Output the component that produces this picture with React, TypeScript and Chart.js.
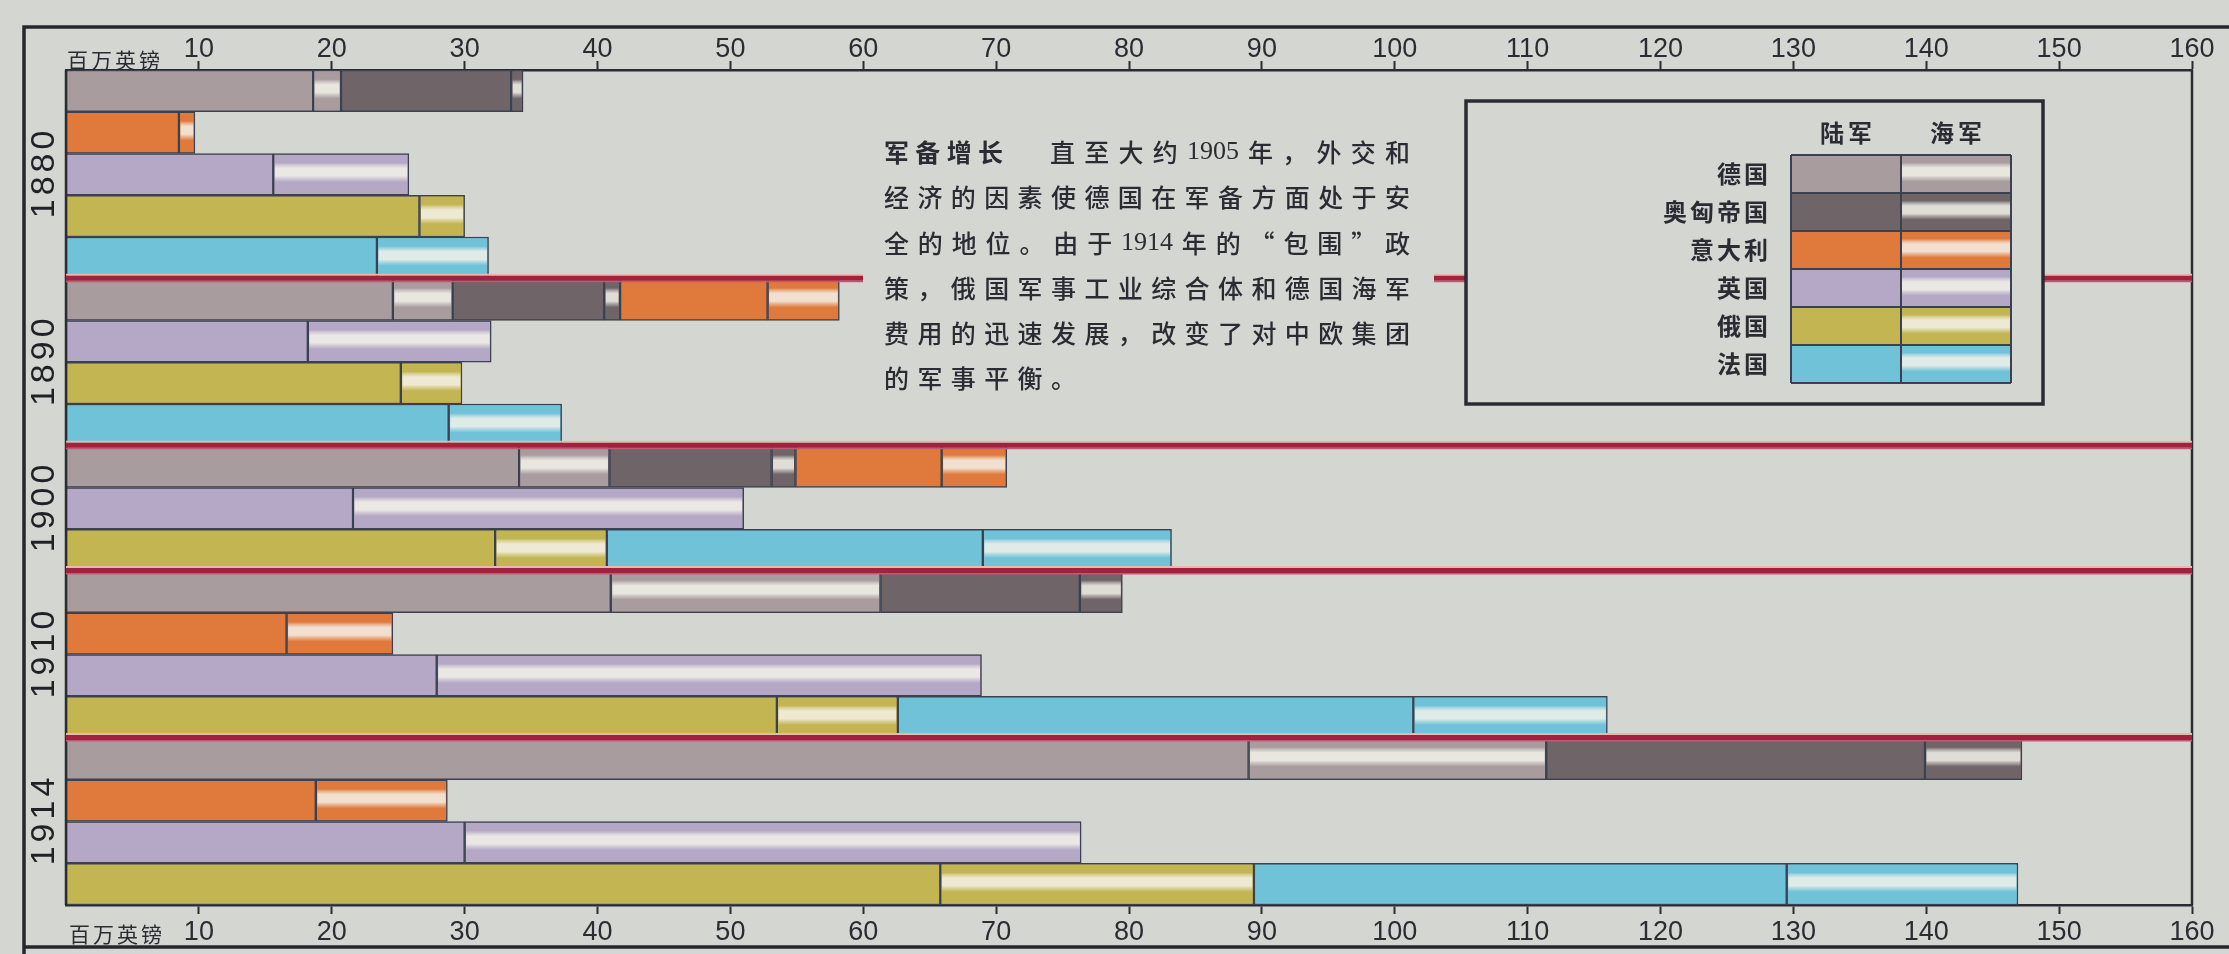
import { useEffect, useRef } from 'react';
import { Chart, registerables } from 'chart.js';

Chart.register(...registerables);

const W = 2229;
const H = 954;
const BG = '#d4d6d2';
const INK = '#2a2c33';
const BAR_EDGE = '#3b4150';

// ---- data (million pounds) ----
const years = ['1880', '1890', '1900', '1910', '1914'];
const countries = ['德国', '奥匈帝国', '意大利', '英国', '俄国', '法国'];
const branchLabels = ['陆军', '海军'];

const germanyArmy = [18.6, 24.6, 34.1, 41.0, 89.0];
const germanyNavy = [2.1, 4.5, 6.8, 20.3, 22.4];
const austriaArmy = [12.8, 11.4, 12.2, 15.0, 28.5];
const austriaNavy = [0.9, 1.2, 1.8, 3.2, 7.3];
const italyArmy = [8.5, 11.1, 11.0, 16.6, 18.8];
const italyNavy = [1.2, 5.4, 4.9, 8.0, 9.9];
const britainArmy = [15.6, 18.2, 21.6, 27.9, 30.0];
const britainNavy = [10.2, 13.8, 29.4, 41.0, 46.4];
const russiaArmy = [26.6, 25.2, 32.3, 53.5, 65.8];
const russiaNavy = [3.4, 4.6, 8.4, 9.1, 23.6];
const franceArmy = [23.4, 28.8, 28.3, 38.8, 40.1];
const franceNavy = [8.4, 8.5, 14.2, 14.6, 17.4];

const armyValues = [germanyArmy, austriaArmy, italyArmy, britainArmy, russiaArmy, franceArmy];
const navyValues = [germanyNavy, austriaNavy, italyNavy, britainNavy, russiaNavy, franceNavy];

const countryColors = ['#a89c9f', '#6f6468', '#e07a3c', '#b4a8c6', '#c4b553', '#70c2d8'];

// which countries share each bar row, per year (indices into countries)
const rowLayout = [
  [[0, 1], [2], [3], [4], [5]],
  [[0, 1, 2], [3], [4], [5]],
  [[0, 1, 2], [3], [4, 5]],
  [[0, 1], [2], [3], [4, 5]],
  [[0, 1], [2], [3], [4, 5]],
];

const xTicks = [10, 20, 30, 40, 50, 60, 70, 80, 90, 100, 110, 120, 130, 140, 150, 160];
const unitLabel = '百万英镑';
const noteTitle = '军备增长';
const noteLines = [
  '直至大约 1905 年，外交和',
  '经济的因素使德国在军备方面处于安',
  '全的地位。由于 1914 年的“包围”政',
  '策，俄国军事工业综合体和德国海军',
  '费用的迅速发展，改变了对中欧集团',
  '的军事平衡。',
];

// ---- build rows ----
type Row = { year: number; members: number[] };
const rows: Row[] = [];
rowLayout.forEach((yr, yi) => yr.forEach((members) => rows.push({ year: yi, members })));
const rowKeys = rows.map((r, i) => `${years[r.year]}-${i}`);
const groupStarts: number[] = [];
const groupSpans: [number, number][] = [];
{
  let idx = 0;
  rowLayout.forEach((yr) => {
    groupSpans.push([idx, idx + yr.length]);
    idx += yr.length;
    groupStarts.push(idx);
  });
}

const datasets: any[] = [];
countries.forEach((name, ci) => {
  [armyValues, navyValues].forEach((src, bi) => {
    datasets.push({
      label: `${name}${branchLabels[bi]}`,
      data: rows.map((r) => (r.members.includes(ci) ? src[ci][r.year] : null)),
      backgroundColor: countryColors[ci],
      borderColor: BAR_EDGE,
      borderWidth: 1.5,
      borderSkipped: false,
      barPercentage: 1,
      categoryPercentage: 1,
      stack: 'all',
      navy: bi === 1,
      colorIndex: ci,
    });
  });
});

// ---- helpers ----
function hexToRgb(hex: string) {
  const h = hex.replace('#', '');
  return [parseInt(h.slice(0, 2), 16), parseInt(h.slice(2, 4), 16), parseInt(h.slice(4, 6), 16)];
}
function mix(hex: string, target: string, t: number) {
  const a = hexToRgb(hex);
  const b = hexToRgb(target);
  const c = a.map((v, i) => Math.round(v + (b[i] - v) * t));
  return `rgb(${c[0]},${c[1]},${c[2]})`;
}
function navyFill(ctx: CanvasRenderingContext2D, x: number, y: number, w: number, h: number, color: string) {
  if (w <= 0 || h <= 0) return;
  const g = ctx.createLinearGradient(0, y, 0, y + h);
  const light = mix(color, '#f4f2ea', 0.5);
  const white = mix(color, '#f4f2ea', 0.85);
  g.addColorStop(0, color);
  g.addColorStop(0.2, color);
  g.addColorStop(0.27, light);
  g.addColorStop(0.34, white);
  g.addColorStop(0.54, white);
  g.addColorStop(0.6, light);
  g.addColorStop(0.7, color);
  g.addColorStop(1, color);
  ctx.fillStyle = g;
  ctx.fillRect(x, y, w, h);
}

const CJK = '"Noto Sans CJK SC"';
const bodyFont = `500 25px ${CJK}`;
const boldFont = `bold 25px ${CJK}`;
const legendFont = `bold 24px ${CJK}`;
const latinFont = '26px "Liberation Serif"';

function drawLine(
  ctx: CanvasRenderingContext2D,
  text: string,
  x0: number,
  x1: number | null,
  y: number,
  cjkFont: string,
  fixedGap = 8
) {
  const tokens = text.match(/[0-9A-Za-z]+|\S/g) || [];
  const fontOf = (t: string) => (/^[0-9A-Za-z]+$/.test(t) ? latinFont : cjkFont);
  const widths = tokens.map((t) => {
    ctx.font = fontOf(t);
    return ctx.measureText(t).width;
  });
  const total = widths.reduce((a, b) => a + b, 0);
  const gap = x1 !== null && tokens.length > 1 ? (x1 - x0 - total) / (tokens.length - 1) : fixedGap;
  let x = x0;
  tokens.forEach((t, i) => {
    ctx.font = fontOf(t);
    ctx.fillText(t, x, y);
    x += widths[i] + gap;
  });
  return gap;
}

const decorPlugin = {
  id: 'decor',
  beforeDraw(chart: any) {
    const ctx: CanvasRenderingContext2D = chart.ctx;
    ctx.save();
    ctx.fillStyle = BG;
    ctx.fillRect(0, 0, W, H);
    ctx.strokeStyle = '#25272e';
    ctx.lineWidth = 3.5;
    ctx.beginPath();
    ctx.moveTo(W, 27);
    ctx.lineTo(24, 27);
    ctx.lineTo(24, H);
    ctx.moveTo(24, 947);
    ctx.lineTo(W, 947);
    ctx.stroke();
    ctx.restore();
  },
  afterDatasetsDraw(chart: any) {
    const ctx: CanvasRenderingContext2D = chart.ctx;
    const { left: L, right: R, top: T, bottom: B } = chart.chartArea;
    ctx.save();
    // navy stripes
    chart.data.datasets.forEach((ds: any, di: number) => {
      if (!ds.navy) return;
      const meta = chart.getDatasetMeta(di);
      meta.data.forEach((el: any, i: number) => {
        if (ds.data[i] === null || ds.data[i] === undefined) return;
        const p = el.getProps(['x', 'y', 'base', 'height'], true);
        const bw = ds.borderWidth;
        const x0 = Math.min(p.x, p.base) + bw;
        const x1 = Math.max(p.x, p.base) - bw;
        const y0 = p.y - p.height / 2 + bw;
        navyFill(ctx, x0, y0, x1 - x0, p.height - 2 * bw, countryColors[ds.colorIndex]);
      });
    });
    // plot box sides
    ctx.strokeStyle = INK;
    ctx.lineWidth = 2.5;
    ctx.beginPath();
    ctx.moveTo(L, T);
    ctx.lineTo(L, B);
    ctx.moveTo(R, T);
    ctx.lineTo(R, B);
    ctx.stroke();
    // red separators between year groups
    const rowH = (B - T) / rows.length;
    groupStarts.slice(0, -1).forEach((idx) => {
      const y = T + idx * rowH;
      ctx.fillStyle = '#e8b8ae';
      ctx.fillRect(L, y - 5, R - L, 2);
      ctx.fillStyle = '#a2213e';
      ctx.fillRect(L, y - 3, R - L, 5);
      ctx.fillStyle = '#c05a72';
      ctx.fillRect(L, y + 2, R - L, 1.5);
    });
    ctx.restore();
  },
  afterDraw(chart: any) {
    const ctx: CanvasRenderingContext2D = chart.ctx;
    const { top: T, bottom: B, left: L } = chart.chartArea;
    const rowH = (B - T) / rows.length;
    ctx.save();

    // note text block
    ctx.fillStyle = BG;
    ctx.fillRect(863, 118, 1434 - 863, 287);
    ctx.fillStyle = INK;
    ctx.textBaseline = 'middle';
    ctx.textAlign = 'left';
    const tx0 = 884;
    const tx1 = 1410;
    const lineY = [152, 197.5, 243, 288, 333, 378];
    drawLine(ctx, noteTitle, tx0, 1003, lineY[0], boldFont);
    drawLine(ctx, noteLines[0], 1050, tx1, lineY[0], bodyFont);
    let gap = 8;
    for (let i = 1; i < noteLines.length - 1; i++) {
      const g = drawLine(ctx, noteLines[i], tx0, tx1, lineY[i], bodyFont);
      if (i === 1) gap = g;
    }
    drawLine(ctx, noteLines[noteLines.length - 1], tx0, null, lineY[noteLines.length - 1], bodyFont, gap);

    // legend
    const lb = { x: 1466, y: 101, w: 577, h: 303 };
    ctx.fillStyle = BG;
    ctx.fillRect(lb.x, lb.y, lb.w, lb.h);
    ctx.strokeStyle = INK;
    ctx.lineWidth = 3.5;
    ctx.strokeRect(lb.x, lb.y, lb.w, lb.h);
    const gx0 = 1791;
    const gx1 = 1901;
    const gx2 = 2011;
    const gy0 = 155;
    const gh = 38;
    ctx.fillStyle = INK;
    ctx.font = legendFont;
    ctx.textAlign = 'center';
    ctx.textBaseline = 'middle';
    (ctx as any).letterSpacing = '4px';
    ctx.fillText(branchLabels[0], (gx0 + gx1) / 2 + 2, 133);
    ctx.fillText(branchLabels[1], (gx1 + gx2) / 2 + 2, 133);
    countries.forEach((name, i) => {
      const y = gy0 + i * gh;
      ctx.fillStyle = countryColors[i];
      ctx.fillRect(gx0, y, gx1 - gx0, gh);
      navyFill(ctx, gx1, y, gx2 - gx1, gh, countryColors[i]);
      ctx.fillStyle = INK;
      ctx.font = legendFont;
      ctx.textAlign = 'right';
      (ctx as any).letterSpacing = '3px';
      ctx.fillText(name, 1771, y + gh / 2);
    });
    (ctx as any).letterSpacing = '0px';
    ctx.strokeStyle = BAR_EDGE;
    ctx.lineWidth = 2;
    for (let i = 0; i <= countries.length; i++) {
      ctx.beginPath();
      ctx.moveTo(gx0, gy0 + i * gh);
      ctx.lineTo(gx2, gy0 + i * gh);
      ctx.stroke();
    }
    [gx0, gx1, gx2].forEach((x) => {
      ctx.beginPath();
      ctx.moveTo(x, gy0);
      ctx.lineTo(x, gy0 + countries.length * gh);
      ctx.stroke();
    });

    // year labels
    ctx.fillStyle = '#1f2127';
    ctx.font = '34px "Liberation Sans"';
    ctx.textAlign = 'center';
    ctx.textBaseline = 'middle';
    (ctx as any).letterSpacing = '4px';
    groupSpans.forEach(([a, b], i) => {
      const yc = T + ((a + b) / 2) * rowH;
      ctx.save();
      ctx.translate(45, yc);
      ctx.rotate(-Math.PI / 2);
      ctx.fillText(years[i], 2, 0);
      ctx.restore();
    });

    // unit labels
    ctx.fillStyle = INK;
    ctx.font = `21px ${CJK}`;
    ctx.textAlign = 'left';
    ctx.textBaseline = 'middle';
    (ctx as any).letterSpacing = '3px';
    ctx.fillText(unitLabel, L + 1, 60);
    ctx.fillText(unitLabel, L + 3, 934);
    (ctx as any).letterSpacing = '0px';
    ctx.restore();
  },
};

function axis(position: 'top' | 'bottom', height: number, pad: number) {
  return {
    type: 'linear',
    position,
    min: 0,
    max: 160,
    stacked: position === 'bottom',
    afterBuildTicks: (s: any) => {
      s.ticks = xTicks.map((v) => ({ value: v }));
    },
    afterFit: (s: any) => {
      s.height = height;
    },
    ticks: {
      autoSkip: false,
      maxRotation: 0,
      minRotation: 0,
      padding: pad,
      color: INK,
      font: { family: 'Liberation Sans', size: 27 },
    },
    grid: {
      drawOnChartArea: false,
      drawTicks: true,
      tickLength: 9,
      tickWidth: 2,
      tickColor: INK,
      color: INK,
    },
    border: { display: true, color: INK, width: 2.5 },
  };
}

export default function App() {
  const ref = useRef<HTMLCanvasElement | null>(null);
  useEffect(() => {
    document.body.style.background = BG;
    const canvas = ref.current;
    if (!canvas) return;
    const chart = new Chart(canvas, {
      type: 'bar',
      data: { labels: rowKeys, datasets },
      options: {
        indexAxis: 'y',
        responsive: false,
        maintainAspectRatio: false,
        animation: false,
        devicePixelRatio: 1,
        events: [],
        layout: { padding: { left: 66, right: W - 2192, top: 0, bottom: 0 } },
        scales: {
          x: axis('bottom', H - 905, 2),
          x2: axis('top', 70, -5),
          y: { type: 'category', display: false, stacked: true, offset: true, grid: { display: false } },
        },
        plugins: { legend: { display: false }, tooltip: { enabled: false }, title: { display: false } },
      } as any,
      plugins: [decorPlugin],
    });
    return () => chart.destroy();
  }, []);
  return (
    <div style={{ position: 'absolute', left: 0, top: 0, width: W, height: H, background: BG }}>
      <canvas ref={ref} width={W} height={H} style={{ display: 'block', width: W, height: H }} />
    </div>
  );
}
